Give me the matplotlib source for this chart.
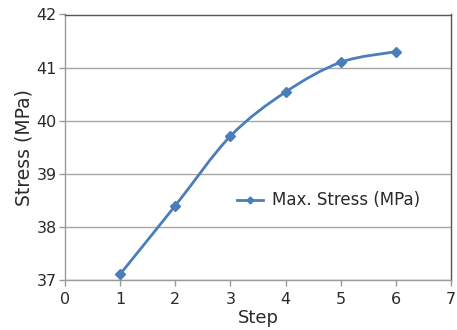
import matplotlib as mpl
mpl.use('Agg')
import matplotlib.pyplot as plt
from matplotlib.path import Path
from matplotlib.patches import PathPatch
import numpy as np

steps = [1, 2, 3, 4, 5, 6]
stress = [37.11, 38.40, 39.71, 40.54, 41.10, 41.30]
series_name = "Max. Stress (MPa)"
line_color = '#4a7ebb'

plt.rcParams['font.family'] = ['DejaVu Sans']


def smooth_path(x, y, t=1 / 6):
    # excel-like smoothed line: cubic bezier with catmull-rom control points
    x = np.asarray(x, float)
    y = np.asarray(y, float)
    verts = [(x[0], y[0])]
    codes = [Path.MOVETO]
    n = len(x)
    for i in range(n - 1):
        p0 = i - 1 if i > 0 else i
        p3 = i + 2 if i + 2 < n else i + 1
        c1 = (x[i] + (x[i + 1] - x[p0]) * t, y[i] + (y[i + 1] - y[p0]) * t)
        c2 = (x[i + 1] - (x[p3] - x[i]) * t, y[i + 1] - (y[p3] - y[i]) * t)
        verts += [c1, c2, (x[i + 1], y[i + 1])]
        codes += [Path.CURVE4] * 3
    return Path(verts, codes)


fig = plt.figure(figsize=(4.57, 3.30), dpi=100)
ax = fig.add_axes([65 / 457, 50 / 330, 386 / 457, 265.5 / 330])

ax.add_patch(PathPatch(smooth_path(steps, stress), fill=False,
                       edgecolor=line_color, linewidth=2.0, zorder=3))
ax.plot(steps, stress, linestyle='none', marker='D', markersize=5.5,
        color=line_color, zorder=4)
# legend proxy
ax.plot([], [], color=line_color, linewidth=2.0, marker='D', markersize=3.5,
        label=series_name)

ax.set_xlim(0, 7)
ax.set_ylim(37, 42)
ax.set_xticks(range(0, 8))
ax.set_yticks(range(37, 43))
ax.yaxis.grid(True, color='#a6a6a6', linewidth=1.0)
ax.set_axisbelow(True)

for side in ['left', 'bottom']:
    ax.spines[side].set_color('#9a9a9a')
    ax.spines[side].set_linewidth(1.0)
for side in ['top', 'right']:
    ax.spines[side].set_color('#555555')
    ax.spines[side].set_linewidth(1.0)

ax.tick_params(axis='both', direction='out', length=4, width=1.0,
               color='#9a9a9a', labelsize=11.5, labelcolor='#2a2a2a')
ax.tick_params(axis='x', pad=5)
ax.tick_params(axis='y', pad=2)

ax.set_xlabel("Step", fontsize=13, color='#2a2a2a', labelpad=1)
ax.set_ylabel("Stress (MPa)", fontsize=13.5, color='#2a2a2a', labelpad=2)

ax.legend(loc='center left', bbox_to_anchor=(0.446, 0.30), frameon=False,
          fontsize=12, handlelength=1.55, handletextpad=0.55,
          borderaxespad=0, borderpad=0,
          labelcolor='#2a2a2a')

plt.savefig('out.png', dpi=100)
plt.close()
